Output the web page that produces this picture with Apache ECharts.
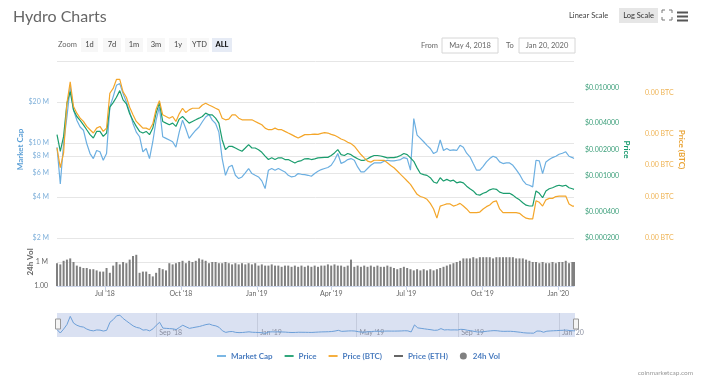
<!DOCTYPE html>
<html><head><meta charset="utf-8">
<script src="https://cdn.jsdelivr.net/npm/echarts@6/dist/echarts.min.js"></script>
<style>html,body{margin:0;padding:0;background:#fff}#c{width:710px;height:379px}</style>
</head><body><div id="c"></div>
<script>
const dates = [
'2018-05-04','2018-05-08','2018-05-12','2018-05-16','2018-05-20','2018-05-24','2018-05-28',
'2018-06-01','2018-06-05','2018-06-09','2018-06-13','2018-06-17','2018-06-21','2018-06-25','2018-06-29',
'2018-07-03','2018-07-07','2018-07-11','2018-07-15','2018-07-19','2018-07-23','2018-07-27','2018-07-31',
'2018-08-04','2018-08-08','2018-08-12','2018-08-16','2018-08-20','2018-08-24','2018-08-28',
'2018-09-01','2018-09-05','2018-09-09','2018-09-13','2018-09-17','2018-09-21','2018-09-25','2018-09-29',
'2018-10-03','2018-10-07','2018-10-11','2018-10-15','2018-10-19','2018-10-23','2018-10-27','2018-10-31',
'2018-11-04','2018-11-08','2018-11-12','2018-11-16','2018-11-20','2018-11-24','2018-11-28',
'2018-12-02','2018-12-06','2018-12-10','2018-12-14','2018-12-18','2018-12-22','2018-12-26','2018-12-30',
'2019-01-03','2019-01-07','2019-01-11','2019-01-15','2019-01-19','2019-01-23','2019-01-27','2019-01-31',
'2019-02-04','2019-02-08','2019-02-12','2019-02-16','2019-02-20','2019-02-24','2019-02-28',
'2019-03-04','2019-03-08','2019-03-12','2019-03-16','2019-03-20','2019-03-24','2019-03-28',
'2019-04-01','2019-04-05','2019-04-09','2019-04-13','2019-04-17','2019-04-21','2019-04-25','2019-04-29',
'2019-05-03','2019-05-07','2019-05-11','2019-05-15','2019-05-19','2019-05-23','2019-05-27','2019-05-31',
'2019-06-04','2019-06-08','2019-06-12','2019-06-16','2019-06-20','2019-06-24','2019-06-28',
'2019-07-02','2019-07-06','2019-07-10','2019-07-14','2019-07-18','2019-07-22','2019-07-26','2019-07-30',
'2019-08-03','2019-08-07','2019-08-11','2019-08-15','2019-08-19','2019-08-23','2019-08-27','2019-08-31',
'2019-09-04','2019-09-08','2019-09-12','2019-09-16','2019-09-20','2019-09-24','2019-09-28',
'2019-10-02','2019-10-06','2019-10-10','2019-10-14','2019-10-18','2019-10-22','2019-10-26','2019-10-30',
'2019-11-03','2019-11-07','2019-11-11','2019-11-15','2019-11-19','2019-11-23','2019-11-27',
'2019-12-01','2019-12-05','2019-12-09','2019-12-13','2019-12-17','2019-12-21','2019-12-25','2019-12-29',
'2020-01-02','2020-01-06','2020-01-10','2020-01-14','2020-01-18','2020-01-20'
];

const marketCap = [
9.3e6,5.0e6,9.9e6,15.5e6,25.8e6,17.4e6,14.7e6,13.1e6,12.4e6,9.9e6,
8.35e6,7.67e6,8.8e6,8.6e6,7.46e6,8.35e6,18.4e6,21.8e6,26.5e6,27.3e6,
23.1e6,20.0e6,16.9e6,13.9e6,12.0e6,11.1e6,8.6e6,9.1e6,7.67e6,10.2e6,
14.7e6,18.4e6,11.1e6,10.8e6,10.5e6,10.2e6,9.3e6,12.0e6,14.7e6,12.7e6,
10.8e6,11.6e6,12.4e6,13.1e6,14.3e6,15.5e6,16.2e6,14.7e6,13.9e6,12.0e6,
7.67e6,5.78e6,6.66e6,6.85e6,5.78e6,5.47e6,5.62e6,6.02e6,6.48e6,5.95e6,
5.78e6,5.62e6,5.26e6,4.62e6,6.30e6,6.48e6,6.30e6,6.48e6,6.30e6,6.12e6,
5.78e6,5.62e6,5.69e6,5.95e6,5.88e6,5.85e6,5.78e6,5.69e6,5.95e6,6.19e6,
6.37e6,6.48e6,6.59e6,6.85e6,7.46e6,8.35e6,7.05e6,7.25e6,7.54e6,7.67e6,
7.46e6,6.66e6,6.12e6,6.12e6,6.48e6,6.85e6,7.13e6,7.13e6,7.13e6,7.33e6,
7.46e6,7.37e6,7.37e6,7.46e6,7.54e6,7.8e6,7.67e6,6.30e6,15.1e6,11.4e6,
10.8e6,10.2e6,9.6e6,9.1e6,8.35e6,8.6e6,10.5e6,8.8e6,9.1e6,8.8e6,
8.9e6,8.8e6,9.6e6,9.3e6,8.4e6,7.9e6,7.05e6,6.30e6,6.30e6,6.73e6,
7.25e6,7.67e6,7.98e6,7.8e6,7.25e6,7.05e6,7.13e6,7.13e6,6.85e6,6.37e6,
5.88e6,5.31e6,4.97e6,4.88e6,4.75e6,7.46e6,7.37e6,5.95e6,7.25e6,7.54e6,
7.8e6,7.98e6,8.25e6,8.4e6,8.6e6,7.98e6,7.8e6,7.67e6
];

const priceUsd = [
0.00294,0.00191,0.00281,0.00667,0.00902,0.00561,0.00472,0.00426,0.00380,0.00334,
0.00294,0.00270,0.00320,0.00320,0.00281,0.00307,0.00601,0.00678,0.00779,0.00925,
0.00727,0.00655,0.00506,0.00426,0.00365,0.00320,0.00307,0.00320,0.00294,0.00349,
0.00515,0.00678,0.00415,0.00397,0.00380,0.00397,0.00365,0.00441,0.00472,0.00433,
0.00397,0.00415,0.00433,0.00452,0.00472,0.00515,0.00493,0.00493,0.00452,0.00397,
0.00258,0.00199,0.00217,0.00217,0.00208,0.00199,0.00191,0.00208,0.00227,0.00208,
0.00208,0.00199,0.00186,0.00168,0.00154,0.00161,0.00154,0.00161,0.00161,0.00154,
0.00154,0.00147,0.00141,0.00147,0.00150,0.00157,0.00158,0.00154,0.00157,0.00161,
0.00162,0.00163,0.00163,0.00171,0.00183,0.00199,0.00175,0.00171,0.00180,0.00175,
0.00165,0.00157,0.00151,0.00151,0.00157,0.00165,0.00171,0.00171,0.00169,0.00165,
0.00161,0.00162,0.00162,0.00165,0.00171,0.00180,0.00175,0.00161,0.00147,0.00124,
0.00107,0.00104,0.00102,0.00096,0.00086,0.00083,0.00096,0.00088,0.00092,0.00088,
0.00090,0.00084,0.00086,0.00084,0.00077,0.00072,0.00068,0.00062,0.00061,0.00064,
0.00066,0.00070,0.00072,0.00071,0.00066,0.00064,0.00064,0.00064,0.00061,0.00057,
0.00054,0.00050,0.00047,0.00046,0.00046,0.00068,0.00064,0.00057,0.00068,0.00072,
0.00074,0.00077,0.00079,0.00077,0.00079,0.00074,0.00072,0.00071
];

const priceBtc = [
2.93e-7,1.89e-7,2.62e-7,7.86e-7,12.6e-7,7.31e-7,6.31e-7,5.65e-7,5.26e-7,4.71e-7,
4.38e-7,4.07e-7,4.54e-7,4.71e-7,4.22e-7,4.54e-7,9.8e-7,10.9e-7,13.3e-7,13.3e-7,
10.1e-7,8.97e-7,7.20e-7,6.09e-7,5.26e-7,4.89e-7,4.54e-7,4.54e-7,4.38e-7,4.99e-7,
6.89e-7,8.33e-7,6.09e-7,5.87e-7,5.65e-7,5.87e-7,5.26e-7,6.22e-7,7.04e-7,6.40e-7,
6.79e-7,7.04e-7,7.04e-7,7.04e-7,7.57e-7,7.86e-7,7.57e-7,7.31e-7,7.04e-7,6.79e-7,
5.65e-7,5.45e-7,5.53e-7,6.09e-7,6.09e-7,5.65e-7,5.45e-7,5.45e-7,5.45e-7,5.45e-7,
5.26e-7,5.07e-7,4.89e-7,4.54e-7,4.38e-7,4.38e-7,4.54e-7,4.38e-7,4.38e-7,4.22e-7,
4.07e-7,3.93e-7,3.78e-7,3.65e-7,3.78e-7,3.93e-7,3.93e-7,3.95e-7,3.98e-7,3.95e-7,
4.04e-7,4.10e-7,4.07e-7,3.95e-7,3.87e-7,3.73e-7,3.57e-7,3.47e-7,3.32e-7,3.22e-7,
3.04e-7,2.78e-7,2.53e-7,2.35e-7,2.19e-7,2.14e-7,2.23e-7,2.23e-7,2.22e-7,2.23e-7,
2.11e-7,1.99e-7,1.89e-7,1.76e-7,1.63e-7,1.52e-7,1.41e-7,1.31e-7,1.17e-7,1.05e-7,
1.00e-7,0.98e-7,0.94e-7,0.86e-7,0.76e-7,0.62e-7,0.81e-7,0.83e-7,0.85e-7,0.85e-7,
0.81e-7,0.83e-7,0.86e-7,0.81e-7,0.76e-7,0.70e-7,0.70e-7,0.70e-7,0.71e-7,0.76e-7,
0.80e-7,0.83e-7,0.89e-7,0.91e-7,0.76e-7,0.70e-7,0.70e-7,0.70e-7,0.70e-7,0.70e-7,
0.69e-7,0.65e-7,0.62e-7,0.61e-7,0.61e-7,0.91e-7,0.88e-7,0.81e-7,0.93e-7,0.96e-7,
0.96e-7,1.00e-7,1.01e-7,1.01e-7,1.01e-7,0.85e-7,0.81e-7,0.81e-7
];

const volume24h = [
0.95e6,0.9e6,1.05e6,1.1e6,1.15e6,1.0e6,0.85e6,0.8e6,0.75e6,0.75e6,
0.7e6,0.7e6,0.65e6,0.6e6,0.6e6,0.75e6,0.55e6,0.85e6,1.0e6,0.9e6,
1.0e6,0.95e6,1.1e6,1.25e6,1.3e6,0.55e6,0.6e6,0.6e6,0.5e6,0.4e6,
0.55e6,0.75e6,0.7e6,0.65e6,0.95e6,0.9e6,0.95e6,1.0e6,1.05e6,0.95e6,
1.05e6,1.0e6,1.05e6,1.15e6,1.1e6,1.05e6,0.95e6,1.0e6,1.0e6,0.95e6,
0.95e6,1.0e6,0.95e6,0.9e6,0.95e6,0.9e6,0.95e6,0.9e6,0.95e6,0.9e6,
0.95e6,0.85e6,0.9e6,0.85e6,0.85e6,0.9e6,0.85e6,0.85e6,0.8e6,0.85e6,
0.85e6,0.8e6,0.85e6,0.8e6,0.85e6,0.8e6,0.85e6,0.8e6,0.85e6,0.8e6,
0.85e6,0.85e6,0.9e6,0.85e6,0.9e6,0.85e6,0.85e6,0.8e6,0.85e6,1.1e6,
0.8e6,0.85e6,0.8e6,0.85e6,0.8e6,0.85e6,0.8e6,0.85e6,0.8e6,0.8e6,
0.85e6,0.8e6,0.75e6,0.7e6,0.75e6,0.8e6,0.75e6,0.7e6,0.65e6,0.7e6,
0.65e6,0.7e6,0.65e6,0.7e6,0.65e6,0.7e6,0.75e6,0.8e6,0.85e6,0.9e6,
0.95e6,1.0e6,1.05e6,1.15e6,1.15e6,1.15e6,1.2e6,1.15e6,1.2e6,1.2e6,
1.2e6,1.2e6,1.15e6,1.2e6,1.2e6,1.2e6,1.2e6,1.2e6,1.2e6,1.15e6,
1.15e6,1.15e6,1.1e6,1.05e6,1.0e6,1.0e6,0.95e6,1.0e6,0.95e6,0.95e6,
1.0e6,0.95e6,1.0e6,1.0e6,1.05e6,0.95e6,1.0e6,1.0e6
];

// axis ticks / labels
const xTickDates = ['2018-07-01','2018-10-01','2019-01-01','2019-04-01','2019-07-01','2019-10-01','2020-01-01'];
const xTickLabels = ["Jul '18","Oct '18","Jan '19","Apr '19","Jul '19","Oct '19","Jan '20"];
const navTickDates = ['2018-09-01','2019-01-01','2019-05-01','2019-09-01','2020-01-01'];
const navTickLabels = ["Sep '18","Jan '19","May '19","Sep '19","Jan '20"];
const mcGridValues = [2e6,4e6,6e6,8e6,1e7,2e7,4e7];
const mcTickValues = [2e6,4e6,6e6,8e6,1e7,2e7];
const priceTickValues = [0.0002,0.0004,0.001,0.002,0.004,0.01];
const btcTickValues = [4e-8,1e-7,2e-7,4e-7,1e-6];
const volTickValues = [0,1e6];
const volTickLabels = ['1.00','1 M'];
const volGridValues = [1e6,2e6];
const xMin = '2018-05-04', xMax = '2020-01-20';

const T = s => Date.parse(s);   // ISO date -> timestamp (UTC)
const F = 'Lato, "Open Sans", sans-serif';
const C_MC = '#6cafe1', C_P = '#1b9d6e', C_BTC = '#f4a62a', C_ETH = '#555555', C_VOL = '#808080';
const DASH = 'path://M0,0h10v2h-10z';

function lookup(list, labels, v) {
  const s = new Date(v).toISOString().slice(0, 10);
  const i = list.indexOf(s);
  return i >= 0 ? labels[i] : '';
}

const chart = echarts.init(document.getElementById('c'), null, {renderer: 'canvas'});

const buttons = [
  {t:'1d', x:81, w:17}, {t:'7d', x:103, w:18}, {t:'1m', x:125, w:18}, {t:'3m', x:147, w:18},
  {t:'1y', x:169, w:18}, {t:'YTD', x:190, w:19}, {t:'ALL', x:212, w:20, active:true}
];

const graphic = [
  {type:'text', x:13, y:17, style:{text:'Hydro Charts', fill:'#666', font:'16px ' + F, verticalAlign:'middle'}},
  {type:'text', x:58, y:45, style:{text:'Zoom', fill:'#666', font:'7.5px ' + F, verticalAlign:'middle'}},
  {type:'text', x:421, y:45.5, style:{text:'From', fill:'#666', font:'7.5px ' + F, verticalAlign:'middle'}},
  {type:'rect', shape:{x:442, y:38, width:56, height:15}, style:{fill:'#fff', stroke:'#d6d6d6', lineWidth:1}},
  {type:'text', x:470, y:45.5, style:{text:'May 4, 2018', fill:'#666', font:'7.5px ' + F, align:'center', verticalAlign:'middle'}},
  {type:'text', x:506, y:45.5, style:{text:'To', fill:'#666', font:'7.5px ' + F, verticalAlign:'middle'}},
  {type:'rect', shape:{x:519, y:38, width:56, height:15}, style:{fill:'#fff', stroke:'#d6d6d6', lineWidth:1}},
  {type:'text', x:547, y:45.5, style:{text:'Jan 20, 2020', fill:'#666', font:'7.5px ' + F, align:'center', verticalAlign:'middle'}},
  {type:'text', x:569, y:15.5, style:{text:'Linear Scale', fill:'#444', font:'7.5px ' + F, verticalAlign:'middle'}},
  {type:'rect', shape:{x:619, y:8, width:39, height:15}, style:{fill:'#e6e6e6'}},
  {type:'text', x:638.5, y:15.5, style:{text:'Log Scale', fill:'#333', font:'7.5px ' + F, align:'center', verticalAlign:'middle'}},
  {type:'polyline', shape:{points:[[662,13],[662,10],[665,10]]}, style:{stroke:'#777', fill:null, lineWidth:1}},
  {type:'polyline', shape:{points:[[669,10],[672,10],[672,13]]}, style:{stroke:'#777', fill:null, lineWidth:1}},
  {type:'polyline', shape:{points:[[662,17],[662,20],[665,20]]}, style:{stroke:'#777', fill:null, lineWidth:1}},
  {type:'polyline', shape:{points:[[669,20],[672,20],[672,17]]}, style:{stroke:'#777', fill:null, lineWidth:1}},
  {type:'rect', shape:{x:677, y:11.5, width:11, height:2}, style:{fill:'#555'}},
  {type:'rect', shape:{x:677, y:15.5, width:11, height:2}, style:{fill:'#555'}},
  {type:'rect', shape:{x:677, y:19.5, width:11, height:2}, style:{fill:'#555'}},
  {type:'rect', shape:{x:55.5, y:319, width:5, height:10}, style:{fill:'#f4f4f4', stroke:'#999', lineWidth:1}, z:100},
  {type:'rect', shape:{x:573.5, y:319, width:5, height:10}, style:{fill:'#f4f4f4', stroke:'#999', lineWidth:1}, z:100},
  {type:'text', x:693, y:373, style:{text:'coinmarketcap.com', fill:'#999', font:'6.5px ' + F, align:'right', verticalAlign:'middle'}}
];
buttons.forEach(b => {
  graphic.push({type:'rect', shape:{x:b.x, y:38, width:b.w, height:14}, style:{fill: b.active ? '#e6ebf5' : '#f7f7f7'}});
  graphic.push({type:'text', x:b.x + b.w / 2, y:45, style:{text:b.t, fill: b.active ? '#000' : '#444',
    font:(b.active ? 'bold ' : '') + '7.5px ' + F, align:'center', verticalAlign:'middle'}});
});

const lineBase = {type:'line', showSymbol:false, symbol:'none', xAxisIndex:0, animation:false};
const xDates = dates.map(T);

const option = {
  animation: false,
  textStyle: {fontFamily: F},
  grid: [
    {left:57, right:136, top:61, height:177},
    {left:57, right:136, top:238, height:48},
    {left:57, right:135, top:313, height:24, show:true, backgroundColor:'#dae1f2', borderWidth:0}
  ],
  legend: {
    left:212, top:347, itemGap:12, itemWidth:9, itemHeight:7, selectedMode:false,
    textStyle:{color:'#4a7cbf', fontSize:8, fontWeight:'bold', fontFamily:F},
    data:[
      {name:'Market Cap', icon:DASH}, {name:'Price', icon:DASH}, {name:'Price (BTC)', icon:DASH},
      {name:'Price (ETH)', icon:DASH}, {name:'24h Vol', icon:'circle'}
    ]
  },
  xAxis: [
    {type:'value', gridIndex:0, min:T(xMin), max:T(xMax), show:false, splitLine:{show:false}},
    {type:'value', gridIndex:1, min:T(xMin), max:T(xMax),
      axisLine:{show:true, lineStyle:{color:'#ccd6eb'}},
      axisTick:{show:true, customValues:xTickDates.map(T), length:4, lineStyle:{color:'#ccd6eb'}},
      axisLabel:{customValues:xTickDates.map(T), formatter:v => lookup(xTickDates, xTickLabels, v), color:'#666', fontSize:7, margin:4},
      splitLine:{show:false}},
    {type:'value', gridIndex:2, min:T(xMin), max:T(xMax),
      axisLine:{show:false}, axisTick:{show:false, customValues:navTickDates.map(T)},
      axisLabel:{customValues:navTickDates.map(T), inside:true, align:'left', margin:1, padding:[0,0,0,3],
        formatter:v => lookup(navTickDates, navTickLabels, v), color:'#8a8fa0', fontSize:7},
      splitLine:{show:true, lineStyle:{color:'#c4cbdd', width:1}}}
  ],
  yAxis: [
    {type:'log', logBase:10, gridIndex:0, position:'left', min:2e6, max:4e7,
      name:'Market Cap', nameLocation:'middle', nameRotate:90, nameGap:33, nameMoveOverlap:false,
      nameTextStyle:{color:'#5b9fd6', fontSize:8, fontWeight:'bold', fontFamily:F},
      axisLine:{show:false}, axisTick:{show:false, customValues:mcGridValues},
      axisLabel:{customValues:mcTickValues, formatter:v => '$' + Math.round(v / 1e6) + ' M', color:'#7fb0da', fontSize:7, margin:8},
      splitLine:{show:true, lineStyle:{color:'#e6e6e6', width:1}}},
    {type:'log', logBase:10, gridIndex:0, position:'right', offset:0, min:0.0002, max:0.02,
      name:'Price', nameLocation:'middle', nameRotate:-90, nameGap:49, nameMoveOverlap:false,
      nameTextStyle:{color:'#13976a', fontSize:8, fontWeight:'bold', fontFamily:F},
      axisLine:{show:false}, axisTick:{show:false},
      axisLabel:{customValues:priceTickValues, formatter:v => '$' + v.toFixed(6), color:'#3c9f7a', fontSize:7, margin:11},
      splitLine:{show:false}},
    {type:'log', logBase:10, gridIndex:0, position:'right', offset:60, min:4e-8, max:2e-6,
      name:'Price (BTC)', nameLocation:'middle', nameRotate:-90, nameGap:44, nameMoveOverlap:false,
      nameTextStyle:{color:'#e9a232', fontSize:8, fontWeight:'bold', fontFamily:F},
      axisLine:{show:false}, axisTick:{show:false},
      axisLabel:{customValues:btcTickValues, formatter:v => v.toFixed(2) + ' BTC', color:'#efb456', fontSize:7, margin:11},
      splitLine:{show:false}},
    {type:'value', gridIndex:1, position:'left', min:0, max:2e6,
      name:'24h Vol', nameLocation:'middle', nameRotate:90, nameGap:23, nameMoveOverlap:false,
      nameTextStyle:{color:'#666', fontSize:8, fontWeight:'bold', fontFamily:F},
      axisLine:{show:false}, axisTick:{show:false, customValues:volGridValues},
      axisLabel:{customValues:volTickValues, formatter:v => volTickLabels[volTickValues.indexOf(Math.round(v))] || '', color:'#666', fontSize:7, margin:9},
      splitLine:{show:true, lineStyle:{color:'#e6e6e6', width:1}}},
    {type:'value', gridIndex:2, min:0, max:30e6, show:false, splitLine:{show:false}}
  ],
  series: [
    Object.assign({}, lineBase, {name:'Market Cap', yAxisIndex:0, data:xDates.map((d, i) => [d, marketCap[i]]),
      lineStyle:{width:1.2, color:C_MC}, itemStyle:{color:C_MC}}),
    Object.assign({}, lineBase, {name:'Price', yAxisIndex:1, data:xDates.map((d, i) => [d, priceUsd[i]]),
      lineStyle:{width:1.2, color:C_P}, itemStyle:{color:C_P}}),
    Object.assign({}, lineBase, {name:'Price (BTC)', yAxisIndex:2, data:xDates.map((d, i) => [d, priceBtc[i]]),
      lineStyle:{width:1.2, color:C_BTC}, itemStyle:{color:C_BTC}}),
    Object.assign({}, lineBase, {name:'Price (ETH)', yAxisIndex:1, data:[],
      lineStyle:{width:1.2, color:C_ETH}, itemStyle:{color:C_ETH}}),
    {name:'24h Vol', type:'bar', xAxisIndex:1, yAxisIndex:3, barWidth:2, animation:false,
      data:xDates.map((d, i) => [d, volume24h[i]]), itemStyle:{color:C_VOL}},
    {name:'nav', type:'line', xAxisIndex:2, yAxisIndex:4, showSymbol:false, symbol:'none', animation:false,
      data:xDates.map((d, i) => [d, marketCap[i]]), lineStyle:{width:1, color:'#6c9fd8'}, itemStyle:{color:'#6c9fd8'}}
  ],
  graphic: graphic
};
chart.setOption(option);
</script>
</body></html>
